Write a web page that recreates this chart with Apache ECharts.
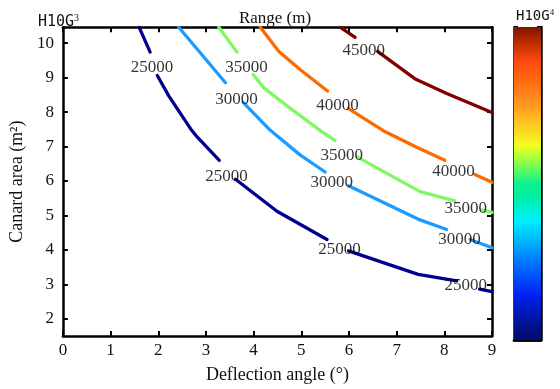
<!DOCTYPE html>
<html>
<head>
<meta charset="utf-8">
<script src="https://cdn.jsdelivr.net/npm/echarts@6/dist/echarts.min.js"></script>
<style>
html, body { margin: 0; padding: 0; background: #ffffff; }
#chart { width: 560px; height: 389px; }
</style>
</head>
<body>
<div id="chart"></div>
<script>
// Contour levels of range (m) and their line colours
const levels = [25000, 30000, 35000, 40000, 45000];
const levelColors = ['#00008f', '#1e9bff', '#80f864', '#ff6a00', '#800000'];

// Contour segments: [deflection angle (deg), canard area (m^2)]
const contour25000 = [
  [[1.60, 10.46], [1.83, 9.74]],
  [[1.98, 9.06], [2.22, 8.47], [2.68, 7.51], [2.82, 7.27], [3.28, 6.60]],
  [[3.62, 6.05], [4.49, 5.12], [5.54, 4.30]],
  [[5.99, 3.97], [7.45, 3.29], [8.26, 3.10]],
  [[8.74, 2.86], [9.00, 2.79]]
];
const contour30000 = [
  [[2.43, 10.46], [3.41, 8.85]],
  [[3.78, 8.28], [4.35, 7.47], [4.98, 6.75], [5.50, 6.26]],
  [[5.99, 5.86], [7.49, 4.87], [8.05, 4.59]],
  [[8.54, 4.30], [9.00, 4.06]]
];
const contour35000 = [
  [[3.27, 10.46], [3.65, 9.74]],
  [[3.99, 9.09], [4.21, 8.71], [4.70, 8.18], [5.40, 7.46], [5.71, 7.17]],
  [[6.17, 6.70], [7.49, 5.69], [8.22, 5.42]],
  [[8.78, 5.16], [9.00, 5.09]]
];
const contour40000 = [
  [[4.14, 10.46], [4.53, 9.76], [4.98, 9.23], [5.55, 8.61]],
  [[5.99, 8.10], [6.72, 7.46], [7.42, 6.98], [8.01, 6.60]],
  [[8.64, 6.19], [9.00, 5.96]]
];
const contour45000 = [
  [[5.82, 10.46], [6.13, 10.17]],
  [[6.60, 9.76], [7.38, 8.97], [8.05, 8.54], [9.00, 7.99]]
];

// Positions of the inline level labels
const labels25000 = [[1.87, 9.28], [3.43, 6.12], [5.80, 4.01], [8.45, 2.96]];
const labels30000 = [[3.64, 8.37], [5.64, 5.96], [8.32, 4.30]];
const labels35000 = [[3.85, 9.28], [5.85, 6.74], [8.45, 5.19]];
const labels40000 = [[5.76, 8.18], [8.19, 6.28]];
const labels45000 = [[6.31, 9.79]];

const contours = [contour25000, contour30000, contour35000, contour40000, contour45000];
const labelSets = [labels25000, labels30000, labels35000, labels40000, labels45000];

// Axis ticks
const xTicks = [0, 1, 2, 3, 4, 5, 6, 7, 8, 9];
const yTicks = [2, 3, 4, 5, 6, 7, 8, 9, 10];
const xRange = [0, 9];
const yRange = [1.5, 10.46];

// Colour bar: value span and jet-like colour stops (bottom to top)
const colorbarSpan = 4;
const colorbarTicks = [0, 1, 2, 3, 4];
const colorbarStops = [
  [0.00, '#00087a'], [0.03, '#00107a'], [0.14, '#0020f0'], [0.25, '#0078ff'],
  [0.32, '#00b8ff'], [0.38, '#00eeff'], [0.46, '#00f0a0'], [0.50, '#10ee90'],
  [0.56, '#80ff50'], [0.62, '#f0ff20'], [0.70, '#ffc020'], [0.75, '#ff9a20'],
  [0.83, '#ff6a10'], [0.89, '#ff4a10'], [0.96, '#b02800'], [1.00, '#7a1500']
];

const serif = 'Liberation Serif';
const mono = 'DejaVu Sans Mono';

const series = [];
contours.forEach((segs, i) => {
  segs.forEach(seg => {
    series.push({
      type: 'line',
      xAxisIndex: 0, yAxisIndex: 0,
      data: seg,
      symbol: 'none',
      smooth: false,
      lineStyle: { color: levelColors[i], width: 3.3, cap: 'round', join: 'round' },
      silent: true,
      z: 3,
      clip: true
    });
  });
});
labelSets.forEach((pts, i) => {
  series.push({
    type: 'scatter',
    xAxisIndex: 0, yAxisIndex: 0,
    data: pts,
    symbolSize: 0,
    silent: true,
    z: 5,
    label: {
      show: true,
      position: 'inside',
      formatter: () => String(levels[i]),
      fontFamily: serif,
      fontSize: 17,
      color: '#000000'
    }
  });
});

// Colour bar drawn as a single full-height bar with a gradient fill
const gradStops = colorbarStops.map(s => ({ offset: 1 - s[0], color: s[1] })).reverse();
series.push({
  type: 'bar',
  xAxisIndex: 2, yAxisIndex: 2,
  data: [colorbarSpan],
  barWidth: '100%',
  silent: true,
  z: 1,
  itemStyle: {
    color: new echarts.graphic.LinearGradient(0, 0, 0, 1, gradStops)
  }
});

const frameLine = { show: true, onZero: false, lineStyle: { color: '#000', width: 2.5 } };
const innerTick = { show: true, inside: true, length: 5, lineStyle: { color: '#000', width: 2 } };

function supRich(size) {
  return {
    b: { fontFamily: mono, fontSize: size, fontWeight: 'normal', color: '#111' },
    s: { fontFamily: serif, fontSize: Math.round(size * 0.65), fontWeight: 'normal', color: '#111',
         verticalAlign: 'top', padding: [0, 0, 8, 0] }
  };
}

const option = {
  animation: false,
  backgroundColor: '#ffffff',
  grid: [
    { left: 62, top: 27.3, right: 68, bottom: 49.7, containLabel: false },
    { left: 514, top: 27, width: 27, height: 313, containLabel: false }
  ],
  title: [
    { text: 'Range (m)', left: 270, top: 5, textAlign: 'center',
      textStyle: { fontFamily: serif, fontSize: 17, fontWeight: 'normal', color: '#111' } },
    { text: '{b|H10G}{s|3}', left: 33, top: 8,
      textStyle: { fontWeight: 'normal', rich: supRich(15) } },
    { text: '{b|H10G}{s|4}', left: 511, top: 3,
      textStyle: { fontWeight: 'normal', rich: supRich(14) } }
  ],
  xAxis: [
    { type: 'value', gridIndex: 0, position: 'bottom', min: xRange[0], max: xRange[1],
      interval: 1,
      name: 'Deflection angle (°)', nameLocation: 'middle', nameGap: 30,
      nameTextStyle: { fontFamily: serif, fontSize: 18, color: '#111' },
      axisLine: frameLine, axisTick: innerTick, splitLine: { show: false },
      axisLabel: { fontFamily: serif, fontSize: 17, color: '#111', margin: 6,
        customValues: xTicks } },
    { type: 'value', gridIndex: 0, position: 'top', min: xRange[0], max: xRange[1],
      interval: 1,
      axisLine: frameLine, axisTick: innerTick, axisLabel: { show: false }, splitLine: { show: false } },
    { type: 'category', gridIndex: 1, data: ['cb'],
      axisLine: { show: true, lineStyle: { color: '#000', width: 2.5 } },
      axisTick: { show: false }, axisLabel: { show: false }, splitLine: { show: false } },
    { type: 'category', gridIndex: 1, data: ['cb'], position: 'top',
      axisLine: { show: true, lineStyle: { color: '#000', width: 2.5 } },
      axisTick: { show: false }, axisLabel: { show: false }, splitLine: { show: false } }
  ],
  yAxis: [
    { type: 'value', gridIndex: 0, position: 'left', min: yRange[0], max: yRange[1],
      name: 'Canard area (m²)', nameLocation: 'middle', nameGap: 33, nameRotate: 90,
      nameTextStyle: { fontFamily: serif, fontSize: 18, color: '#111' },
      axisLine: frameLine,
      axisTick: Object.assign({}, innerTick, { customValues: yTicks }),
      axisLabel: { fontFamily: serif, fontSize: 17, color: '#111', margin: 9, customValues: yTicks },
      splitLine: { show: false } },
    { type: 'value', gridIndex: 0, position: 'right', min: yRange[0], max: yRange[1],
      axisLine: frameLine,
      axisTick: Object.assign({}, innerTick, { customValues: yTicks }),
      axisLabel: { show: false }, splitLine: { show: false } },
    { type: 'value', gridIndex: 1, position: 'left', min: 0, max: colorbarSpan, interval: 1,
      axisLine: { show: true, lineStyle: { color: '#000', width: 2.5 } },
      axisTick: Object.assign({}, innerTick, { length: 4, customValues: colorbarTicks }),
      axisLabel: { show: false }, splitLine: { show: false } },
    { type: 'value', gridIndex: 1, position: 'right', min: 0, max: colorbarSpan, interval: 1,
      axisLine: { show: true, lineStyle: { color: '#000', width: 2.5 } },
      axisTick: Object.assign({}, innerTick, { length: 4, customValues: colorbarTicks }),
      axisLabel: { show: false }, splitLine: { show: false } }
  ],
  series: series
};

const chart = echarts.init(document.getElementById('chart'), null, { renderer: 'canvas' });
chart.setOption(option);
</script>
</body>
</html>
